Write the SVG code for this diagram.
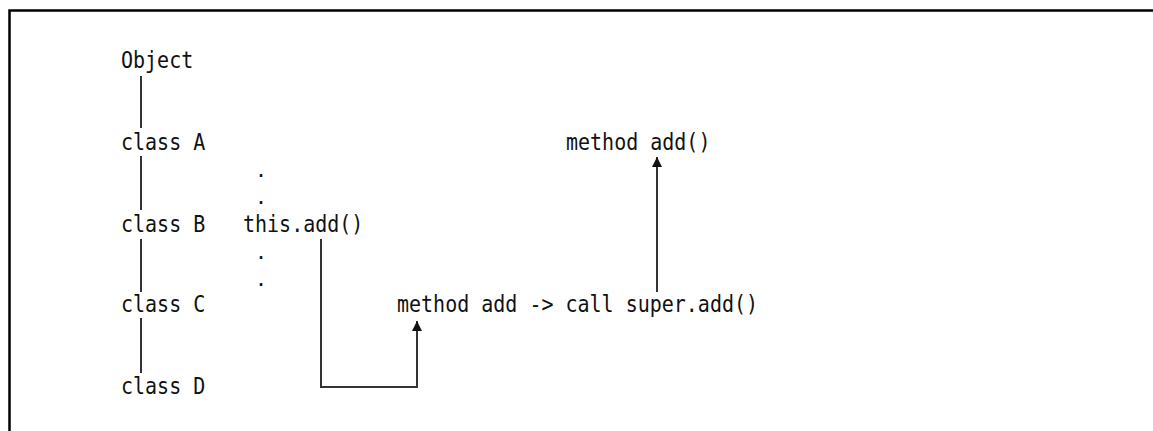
<svg xmlns="http://www.w3.org/2000/svg" width="1153" height="431" viewBox="0 0 1153 431">
  <style>
    text { font-family: "DejaVu Sans Mono", "Liberation Mono", monospace; font-size: 20px; fill: #111; }
    .line { fill: none; stroke: #333; stroke-width: 2; }
    .frame { fill: none; stroke: #000; stroke-width: 2.5; }
  </style>
  <defs>
    <marker id="arrow" viewBox="0 0 10 10" refX="10" refY="5" markerWidth="10" markerHeight="10" markerUnits="userSpaceOnUse" orient="auto">
      <path d="M0,0 L10,5 L0,10 Z" fill="#111"/>
    </marker>
  </defs>

  <rect width="1153" height="431" fill="#fff"/>
  <!-- open frame: top and left edges only -->
  <path class="frame" d="M9.5,431 V10.5 H1153"/>

  <!-- class hierarchy (glyphs stretched slightly taller) -->
  <g id="object"><text transform="translate(121,68) scale(1,1.13)">Object</text></g>
  <g id="class-a"><text transform="translate(121,150) scale(1,1.13)">class A</text></g>
  <g id="class-b"><text transform="translate(121,232) scale(1,1.13)">class B</text></g>
  <g id="class-c"><text transform="translate(121,312) scale(1,1.13)">class C</text></g>
  <g id="class-d"><text transform="translate(121,394) scale(1,1.13)">class D</text></g>

  <!-- call sites -->
  <g id="this-add">
    <text x="255" y="177">.</text>
    <text x="255" y="204">.</text>
    <text transform="translate(243,232) scale(1,1.13)">this.add()</text>
    <text x="255" y="259">.</text>
    <text x="255" y="286">.</text>
  </g>
  <g id="method-add-c"><text transform="translate(397,312) scale(1,1.13)">method add -&gt; call super.add()</text></g>
  <g id="method-add-a"><text transform="translate(566,150) scale(1,1.13)">method add()</text></g>

  <g id="connectors">
    <!-- inheritance chain -->
    <path class="line" d="M141,76 V128 M141,156 V210 M141,239 V292 M141,318 V373"/>
    <!-- this.add() dispatches to class C -->
    <path class="line" d="M321,239 V387 H417 V321" marker-end="url(#arrow)"/>
    <!-- super.add() goes up to class A -->
    <path class="line" d="M657,292 V157" marker-end="url(#arrow)"/>
  </g>
</svg>
